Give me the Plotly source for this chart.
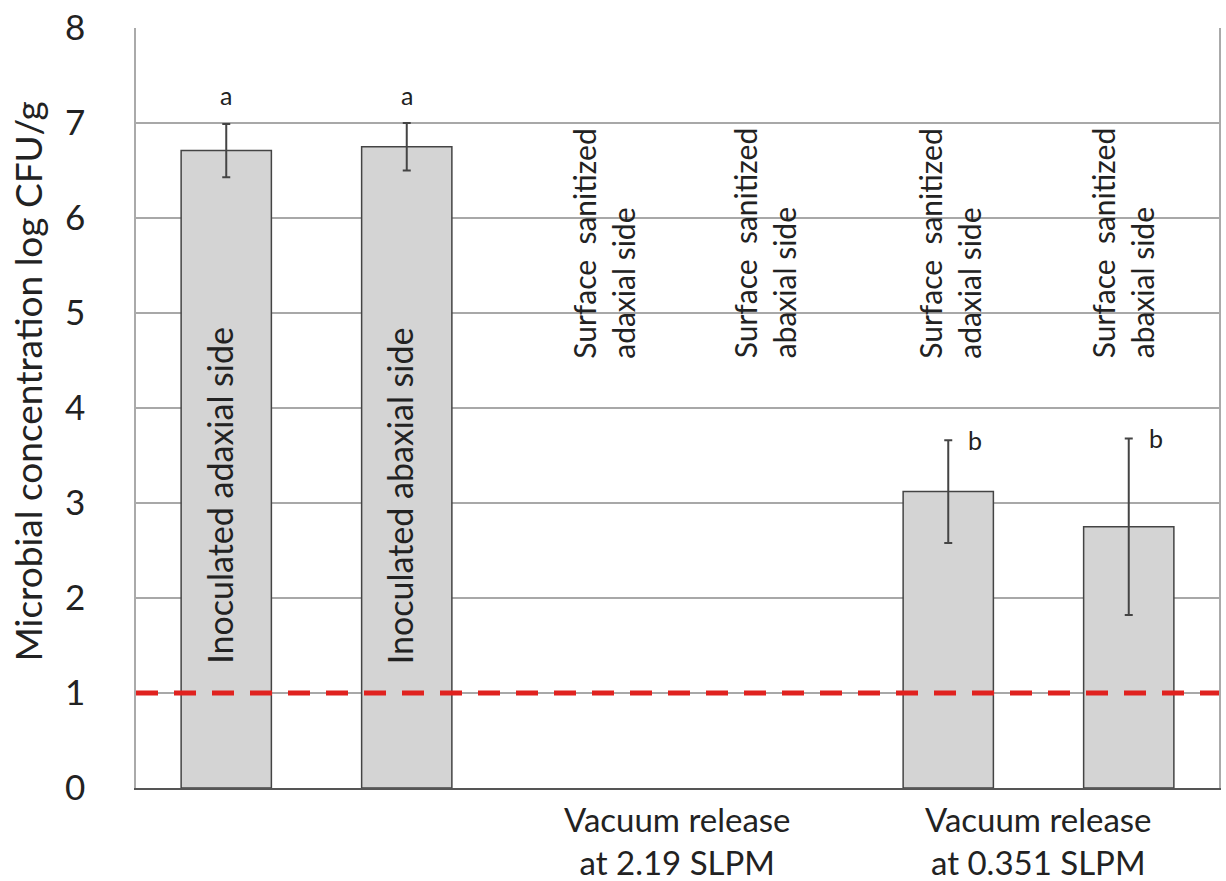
import plotly.graph_objects as go

categories = ["Inoculated adaxial side", "Inoculated abaxial side",
              "VR 2.19 adaxial", "VR 2.19 abaxial",
              "VR 0.351 adaxial", "VR 0.351 abaxial"]
values = [6.71, 6.75, None, None, 3.12, 2.75]
errors = [0.28, 0.25, None, None, 0.54, 0.93]
letters = ["a", "a", "", "", "b", "b"]
bar_texts = ["Inoculated adaxial side", "Inoculated abaxial side",
             "Surface&nbsp; sanitized<br>adaxial side", "Surface&nbsp; sanitized<br>abaxial side",
             "Surface&nbsp; sanitized<br>adaxial side", "Surface&nbsp; sanitized<br>abaxial side"]
group_labels = ["Vacuum release<br>at 2.19 SLPM", "Vacuum release<br>at 0.351 SLPM"]
detection_limit = 1.0
y_ticks = [0, 1, 2, 3, 4, 5, 6, 7, 8]
y_title = "Microbial concentration log CFU/g"

FONT = "Lato"
TXT = "#222222"

fig = go.Figure()
fig.add_trace(go.Bar(
    x=categories, y=values, width=0.5,
    marker=dict(color="#d4d4d4", line=dict(color="#444444", width=1.5)),
    error_y=dict(type="data", array=errors, visible=True, color="#444444",
                 thickness=2, width=4),
    showlegend=False, hoverinfo="skip",
))

# detection limit line
fig.add_shape(type="line", xref="paper", x0=0, x1=1, yref="y",
              y0=detection_limit, y1=detection_limit,
              line=dict(color="#e0221f", width=5, dash="22px,16px"), layer="above")

# letters
for i, (c, v, e, l) in enumerate(zip(categories, values, errors, letters)):
    if not l:
        continue
    if l == "a":
        fig.add_annotation(x=c, y=7.29, text=l, showarrow=False,
                           font=dict(family=FONT, size=25, color=TXT))
    else:
        fig.add_annotation(x=c, y=v + e, text=l, showarrow=False, xshift=27,
                           font=dict(family=FONT, size=25, color=TXT))

# rotated texts
shifts = [-7, -7, 16, -3, 1, -6]
for i, (c, t) in enumerate(zip(categories, bar_texts)):
    if i < 2:
        fig.add_annotation(x=c, y=3.08, text=t, textangle=-90, showarrow=False,
                           xshift=shifts[i], font=dict(family=FONT, size=34, color=TXT))
    else:
        fig.add_annotation(x=c, y=4.5, text=t, textangle=-90, showarrow=False,
                           xshift=shifts[i], yanchor="bottom", align="left",
                           font=dict(family=FONT, size=30, color=TXT))

# group labels below axis
for xpos, lab in zip([2.5, 4.5], group_labels):
    fig.add_annotation(x=xpos, xref="x", y=0, yref="paper", yanchor="top",
                       yshift=-9, text=lab, showarrow=False, align="center",
                       font=dict(family=FONT, size=33, color=TXT))

# y title
fig.add_annotation(x=-0.1005, xref="paper", xanchor="center", y=4.28, yref="y",
                   text=y_title, textangle=-90, showarrow=False,
                   font=dict(family=FONT, size=37, color=TXT))

fig.update_layout(
    width=1226, height=881,
    margin=dict(l=136, r=5, t=27, b=93),
    paper_bgcolor="white", plot_bgcolor="white",
    xaxis=dict(type="category", showticklabels=False, showgrid=False,
               showline=True, linecolor="#555555", linewidth=1.5, ticks="",
               range=[-0.5, 5.5], zeroline=False),
    yaxis=dict(range=[0, 8], tickvals=y_ticks, showgrid=True,
               gridcolor="#a8a8a8", gridwidth=1.5, zeroline=False,
               showline=True, linecolor="#aaaaaa", linewidth=1.5, mirror=True,
               ticks="", ticklabelstandoff=42,
               tickfont=dict(family=FONT, size=35, color=TXT)),
)
fig.write_html("out.html")
